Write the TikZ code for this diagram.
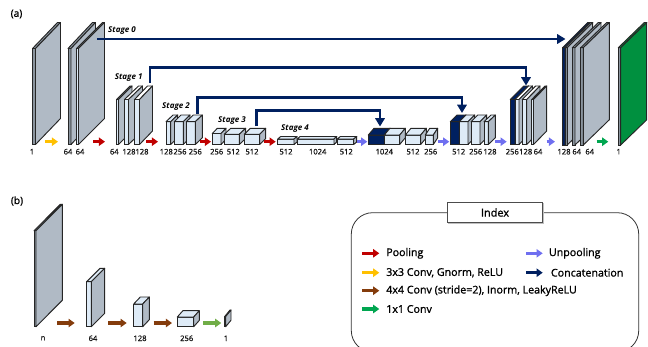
\documentclass[tikz,border=0pt]{standalone}
\usepackage{fontspec}
\setmainfont{Open Sans}
\newfontfamily\medfont[FakeBold=1.2]{Open Sans}
\usetikzlibrary{arrows.meta}
\definecolor{navy}{HTML}{002060}
\definecolor{pool}{HTML}{C00000}
\definecolor{unpool}{HTML}{6F6FF0}
\definecolor{gnorm}{HTML}{FFC000}
\definecolor{inorm}{HTML}{843C0C}
\definecolor{onebyone}{HTML}{00A650}
\definecolor{critic}{HTML}{70AD47}
\definecolor{front}{HTML}{DEEBF7}
\definecolor{side}{HTML}{B0BAC5}
\definecolor{edge}{HTML}{8A949E}
\definecolor{outgreen}{HTML}{00903F}

% x, bottom, front right, front top, back right, back top, front fill, top fill, side fill
\newcommand{\slab}[9]{%
  \filldraw[fill=#7, draw=black!85, line width=0.7pt] (#1,#2) rectangle (#3,#4);
  \filldraw[fill=#8, draw=black!85, line width=0.7pt, line join=round] (#1,#4) -- ({#1+#5-#3},#6) -- (#5,#6) -- (#3,#4) -- cycle;
  \filldraw[fill=#9, draw=black!85, line width=0.7pt, line join=round] (#3,#2) -- (#5,{#2-#4+#6}) -- (#5,#6) -- (#3,#4) -- cycle;
}

\begin{document}
\begin{tikzpicture}[
  x=0.75pt, y=-0.75pt,
  dim/.style={font=\fontsize{5.7}{6}\selectfont\medfont, text=black!90, inner sep=0pt},
  stage/.style={font=\fontsize{6}{6}\selectfont\bfseries\itshape, inner sep=0pt},
  panel/.style={font=\fontsize{7.6}{8}\selectfont\medfont, inner sep=0pt},
  legend/.style={font=\fontsize{8}{8}\selectfont\medfont, anchor=west, inner sep=0pt},
  block/.style={line width=2.3pt, -{Triangle[length=4.6pt, width=6.2pt]}},
  skip/.style={navy, line width=2.2pt, -{Triangle[length=6.2pt, width=7pt]}},
]

\clip (0,0) rectangle (648,346);

% Panel labels
\node[panel] (pa) at (16.5,14) {(a)};
\node[panel] (pb) at (17,201) {(b)};

% Input
\slab{32.5}{144.5}{35.5}{48.5}{60.5}{22.5}{edge}{edge}{side}
\node[dim] (d1) at (32,151.7) {1};

% Stage 0
\slab{68}{144.5}{71}{48.5}{95.5}{22.5}{edge}{edge}{side}
\slab{76.5}{144.5}{78.5}{48.5}{104.5}{22.5}{front}{edge}{side}
\node[stage] (st0) at (122,31) {Stage 0};
\node[dim] (d2) at (68,151.7) {64};
\node[dim] (d3) at (80,151.7) {64};

% Stage 1
\slab{116.5}{144.5}{118.5}{99.5}{132}{86}{front}{edge}{side}
\slab{124.5}{144.5}{128.5}{99.5}{142.5}{86}{front}{white}{side}
\slab{134.5}{144.5}{139.5}{99.5}{152.5}{86}{front}{white}{side}
\node[stage] (st1) at (128.7,77.7) {Stage 1};
\node[dim] (d4) at (114.3,151.7) {64};
\node[dim] (d5) at (129,151.7) {128};
\node[dim] (d6) at (142,151.7) {128};

% Stage 2
\slab{166}{144.5}{170.7}{121.7}{177.7}{115}{front}{front}{side}
\slab{174.3}{144.5}{183.3}{121.7}{190}{115}{front}{front}{side}
\slab{186.3}{144.5}{195.3}{121.7}{202.3}{115}{front}{front}{side}
\node[stage] (st2) at (176,107) {Stage 2};
\node[dim] (d7) at (166.3,151.7) {128};
\node[dim] (d8) at (180,151.7) {256};
\node[dim] (d9) at (195.3,151.7) {256};

% Stage 3
\slab{212.3}{144.5}{221}{133.5}{226}{128.3}{front}{front}{side}
\slab{224.3}{144.5}{239.3}{134.3}{245.7}{128.3}{front}{front}{side}
\slab{244.3}{144.5}{259.7}{134.3}{265.7}{128.3}{front}{front}{side}
\node[stage] (st3) at (232,121) {Stage 3};
\node[dim] (d10) at (216.7,151.7) {256};
\node[dim] (d11) at (233.3,151.7) {512};
\node[dim] (d12) at (252,151.7) {512};

% Stage 4
\slab{277.7}{144.5}{294}{139}{297}{136.5}{front}{front}{side}
\slab{297.3}{144.5}{334}{139}{336.7}{136.5}{front}{front}{side}
\slab{337.3}{144.5}{353.7}{139}{356.7}{136.5}{front}{front}{side}
\node[stage] (st4) at (295,129) {Stage 4};
\node[dim] (d13) at (286,151.7) {512};
\node[dim] (d14) at (317.7,151.7) {1024};
\node[dim] (d15) at (346.3,151.7) {512};

% Up 3
\slab{368.3}{144.5}{384.3}{135}{390}{128.3}{navy}{navy}{navy}
\slab{384.3}{144.5}{399.7}{135}{405.3}{128.3}{front}{front}{side}
\slab{405.3}{144.5}{420.7}{135}{426.3}{128.3}{front}{front}{side}
\slab{425.3}{144.5}{433.3}{135}{437.7}{128.3}{front}{front}{side}
\node[dim] (d16) at (384.3,151.7) {1024};
\node[dim] (d17) at (413,151.7) {512};
\node[dim] (d18) at (430.7,151.7) {256};

% Up 2
\slab{450.3}{144.5}{459.3}{121.7}{466}{115}{navy}{navy}{navy}
\slab{459.3}{144.5}{468}{121.7}{474.7}{115}{front}{front}{side}
\slab{471}{144.5}{480}{121.7}{486.7}{115}{front}{front}{side}
\slab{484}{144.5}{488.3}{121.7}{495.3}{115}{front}{front}{side}
\node[dim] (d19) at (458.7,151.7) {512};
\node[dim] (d20) at (475.7,151.7) {256};
\node[dim] (d21) at (490,151.7) {128};

% Up 1
\slab{510.3}{144.5}{515}{99.5}{528.5}{86}{navy}{navy}{navy}
\slab{515}{144.5}{519}{99.5}{532.5}{86}{front}{white}{side}
\slab{522.3}{144.5}{526.7}{99.5}{540}{86}{front}{white}{side}
\slab{531.7}{144.5}{533.5}{99.5}{546.7}{86}{front}{white}{side}
\node[dim] (d22) at (512.3,151.7) {256};
\node[dim] (d23) at (525.7,151.7) {128};
\node[dim] (d24) at (538,151.7) {64};

% Up 0
\slab{562.7}{145}{565}{47.7}{590}{22.5}{navy}{navy}{navy}
\slab{565}{145}{567.3}{47.7}{592.7}{22.5}{edge}{edge}{side}
\slab{572.3}{145}{575}{47.7}{601}{22.5}{edge}{edge}{side}
\slab{580.7}{145}{583.3}{47.7}{609.3}{22.5}{edge}{edge}{side}
\node[dim] (d25) at (564,151.7) {128};
\node[dim] (d26) at (576.7,151.7) {64};
\node[dim] (d27) at (589.7,151.7) {64};

% Output
\slab{618.3}{145}{620.7}{47.7}{646.7}{22.5}{edge}{outgreen}{outgreen}
\node[dim] (d28) at (618.7,151.7) {1};

% Skip ends
\coordinate (from0) at (97,39);
\coordinate (to0) at (565.5,39);
\coordinate (from1) at (150,83);
\coordinate (to1) at (526,85.5);
\coordinate (from2) at (197.7,113.5);
\coordinate (to2) at (462,113);
\coordinate (from3) at (256.7,126);
\coordinate (to3) at (380,126.5);

% Concatenation
\draw[skip] (from0) -- (to0);
\draw[skip] (from1) |- (to1 |- 0,67.7) -- (to1);
\draw[skip] (from2) |- (to2 |- 0,97.3) -- (to2);
\draw[skip] (from3) |- (to3 |- 0,110.7) -- (to3);

% Block arrows
\draw[block, gnorm] (45.3,141.7) -- (58,141.7);
\draw[block, pool] (93,141.7) -- (105,141.7);
\draw[block, pool] (146,141.7) -- (158,141.7);
\draw[block, pool] (200,141.7) -- (211,141.7);
\draw[block, pool] (264.3,141.7) -- (275.7,141.7);
\draw[block, unpool] (356.7,141.7) -- (367.3,141.7);
\draw[block, unpool] (437.7,141.7) -- (449.3,141.7);
\draw[block, unpool] (495.3,141.7) -- (506.7,141.7);
\draw[block, unpool] (546.5,141.7) -- (555,141.7);
\draw[block, onebyone] (596.7,141.7) -- (608.3,141.7);

% Discriminator
\slab{34}{326.7}{36}{230.7}{62.3}{204.3}{edge}{edge}{side}
\slab{86.7}{326.7}{91.3}{281.7}{104.7}{268.3}{front}{front}{side}
\slab{133.7}{326.7}{142.7}{304}{149.3}{297}{front}{front}{side}
\slab{177.3}{326.7}{193.7}{317}{199.3}{310.7}{front}{front}{side}
\slab{224.7}{326.7}{225.7}{316.5}{231}{310}{edge}{edge}{side}
\draw[block, inorm] (57.3,323) -- (74.7,323);
\draw[block, inorm] (108.3,323) -- (126.7,323);
\draw[block, inorm] (153.7,323) -- (172,323);
\draw[block, critic] (203,323) -- (221.3,323);
\node[dim] (e1) at (43,338.3) {n};
\node[dim] (e2) at (93,338.3) {64};
\node[dim] (e3) at (140,338.3) {128};
\node[dim] (e4) at (186.7,338.3) {256};
\node[dim] (e5) at (226,338.3) {1};

% Index
\draw[black!80, line width=0.6pt, rounded corners=16pt] (351.3,212.7) rectangle (638.7,352);
\fill[black!25] (448.3,203.3) rectangle (543.7,223.7);
\node[draw=black!70, fill=white, line width=0.6pt, minimum width=71.5pt, minimum height=15.3pt, inner sep=0pt,
  font=\fontsize{8.2}{9}\selectfont\medfont] (idx) at (495,212.5) {Index};

\draw[block, pool] (362.3,253.3) -- (379.3,253.3);
\node[legend] (l1) at (386,253.3) {Pooling};
\draw[block, gnorm] (362.3,272.7) -- (379.3,272.7);
\node[legend] (l2) at (386,272.7) {3x3 Conv, Gnorm, ReLU};
\draw[block, inorm] (362.3,290.7) -- (379.3,290.7);
\node[legend] (l3) at (386,290.7) {4x4 Conv (stride=2), Inorm, LeakyReLU};
\draw[block, onebyone] (362.3,309) -- (379.3,309);
\node[legend] (l4) at (386,309) {1x1 Conv};
\draw[block, unpool] (526,253.3) -- (542.7,253.3);
\node[legend] (l5) at (548.7,253.3) {Unpooling};
\draw[block, navy] (526,272.7) -- (542.7,272.7);
\node[legend] (l6) at (550.7,272.7) {Concatenation};

\end{tikzpicture}
\end{document}
